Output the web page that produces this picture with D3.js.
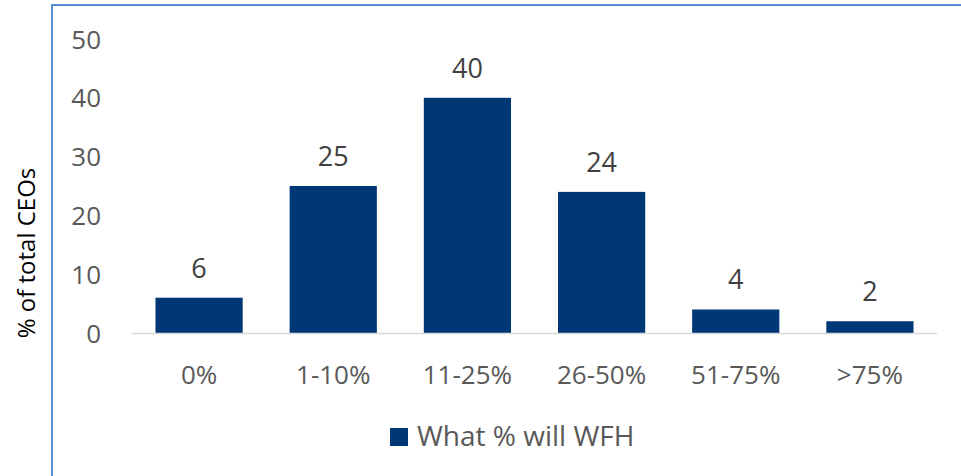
<!DOCTYPE html>
<html>
<head>
<meta charset="utf-8">
<script src="https://cdn.jsdelivr.net/npm/d3@7"></script>
<style>
  body { margin: 0; background: #fff; }
  svg { display: block; font-family: "Open Sans", "Noto Sans", sans-serif; }
</style>
</head>
<body>
<svg class="chart" width="961" height="476"></svg>
<script>
var categories = ["0%", "1-10%", "11-25%", "26-50%", "51-75%", ">75%"];
var values = [6, 25, 40, 24, 4, 2];
var yTicks = [0, 10, 20, 30, 40, 50];
var seriesName = "What % will WFH";
var yTitle = "% of total CEOs";

var svg = d3.select(".chart"),
    WIDTH = 961,
    HEIGHT = 476,
    MARGINS = { top: 39, right: 24, bottom: 143, left: 132 };

// outer frame (only left + top visible)
svg.append("path")
    .attr("d", "M52," + HEIGHT + "V5H" + WIDTH)
    .attr("fill", "none")
    .attr("stroke", "#5a8ad0")
    .attr("stroke-width", 2);

var xScale = d3.scaleBand()
    .domain(categories)
    .range([MARGINS.left, WIDTH - MARGINS.right])
    .paddingInner(0.35)
    .paddingOuter(0.175);

var yScale = d3.scaleLinear()
    .domain([0, 50])
    .range([HEIGHT - MARGINS.bottom, MARGINS.top]);

// y tick labels
svg.append("g").selectAll("text")
    .data(yTicks)
    .enter().append("text")
    .attr("x", 101)
    .attr("y", function(d) { return yScale(d) + 9.5; })
    .attr("text-anchor", "end")
    .attr("font-size", 26)
    .attr("fill", "#595959")
    .text(function(d) { return d; });

// bars
svg.append("g").selectAll("rect")
    .data(values)
    .enter().append("rect")
    .attr("x", function(d, i) { return xScale(categories[i]); })
    .attr("y", function(d) { return yScale(d); })
    .attr("width", xScale.bandwidth())
    .attr("height", function(d) { return yScale(0) - yScale(d); })
    .attr("fill", "#003876");

// baseline
svg.append("line")
    .attr("x1", MARGINS.left)
    .attr("x2", WIDTH - MARGINS.right)
    .attr("y1", yScale(0) + 0.5)
    .attr("y2", yScale(0) + 0.5)
    .attr("stroke", "#d9d9d9")
    .attr("stroke-width", 1.5);

// value labels
svg.append("g").selectAll("text")
    .data(values)
    .enter().append("text")
    .attr("x", function(d, i) { return xScale(categories[i]) + xScale.bandwidth() / 2; })
    .attr("y", function(d) { return yScale(d) - 20; })
    .attr("text-anchor", "middle")
    .attr("font-size", 27)
    .attr("fill", "#404040")
    .text(function(d) { return d; });

// category labels
svg.append("g").selectAll("text")
    .data(categories)
    .enter().append("text")
    .attr("x", function(d) { return xScale(d) + xScale.bandwidth() / 2; })
    .attr("y", yScale(0) + 51)
    .attr("text-anchor", "middle")
    .attr("font-size", 26)
    .attr("fill", "#595959")
    .text(function(d) { return d; });

// y axis title
svg.append("text")
    .attr("transform", "translate(35,253) rotate(-90)")
    .attr("text-anchor", "middle")
    .attr("font-size", 24)
    .attr("fill", "#000")
    .text(yTitle);

// legend
var legend = svg.append("g").attr("transform", "translate(390,428)");
legend.append("rect")
    .attr("width", 18)
    .attr("height", 18)
    .attr("fill", "#003876");
legend.append("text")
    .attr("x", 27)
    .attr("y", 18)
    .attr("font-size", 28)
    .attr("fill", "#595959")
    .text(seriesName);
</script>
</body>
</html>
